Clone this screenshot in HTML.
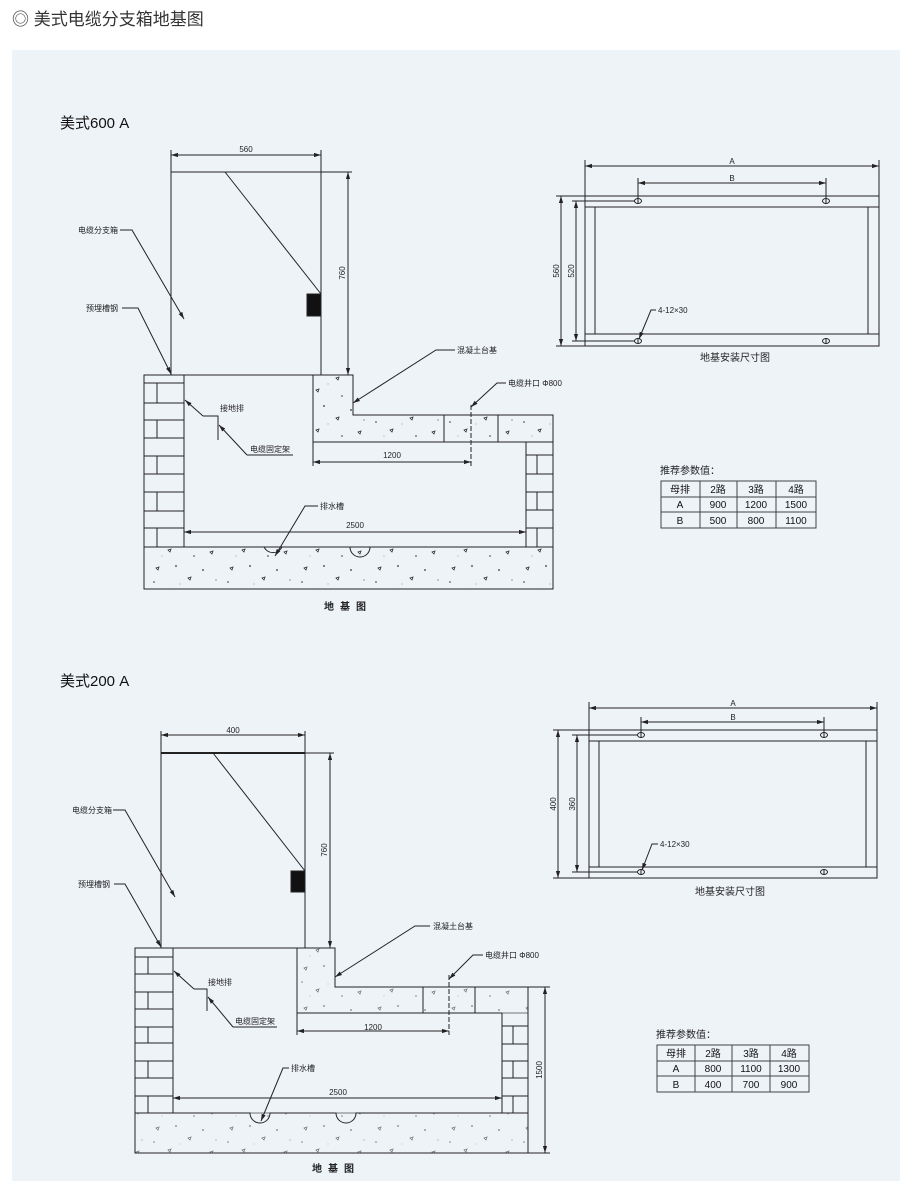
<!DOCTYPE html>
<html><head><meta charset="utf-8">
<style>
html,body{margin:0;padding:0;background:#fff;}
body{width:900px;height:1181px;overflow:hidden;}
svg{display:block;font-family:"Liberation Sans","Noto Sans CJK SC",sans-serif;}
</style></head><body>
<svg width="900" height="1181" viewBox="0 0 900 1181" xmlns="http://www.w3.org/2000/svg">
<defs>
<marker id="ar" viewBox="0 0 10 10" refX="10" refY="5" markerWidth="7" markerHeight="7" orient="auto-start-reverse"><path d="M0,2 L10,5 L0,8 z" fill="#222"/></marker>
<pattern id="spk" width="74" height="40" patternUnits="userSpaceOnUse">
<path d="M8,8 l3,-1 l-1,3z M40,18 l3,-1 l-1,3z M20,30 l3,-1 l-1,3z M62,32 l3,-1 l-1,3z" fill="none" stroke="#333" stroke-width="0.8"/>
<circle cx="28" cy="6" r="0.9" fill="#333"/><circle cx="55" cy="10" r="0.9" fill="#333"/><circle cx="6" cy="22" r="0.8" fill="#333"/><circle cx="46" cy="36" r="0.8" fill="#333"/><circle cx="68" cy="20" r="0.6" fill="#555"/><circle cx="32" cy="24" r="0.5" fill="#777"/><circle cx="14" cy="36" r="0.5" fill="#777"/>
</pattern>
</defs>
<rect width="900" height="1181" fill="#fff"/>
<text x="12" y="25" font-size="17" fill="#333">◎ 美式电缆分支箱地基图</text>
<rect x="12" y="50" width="888" height="1131" fill="#eef3f8"/>

<g stroke="#222" stroke-width="1" fill="none">
<text x="60" y="128" font-size="15" fill="#111" stroke="none">美式600 A</text>
<line x1="171" y1="150" x2="171" y2="172"/><line x1="321" y1="150" x2="321" y2="172"/>
<line x1="171" y1="155" x2="321" y2="155" marker-start="url(#ar)" marker-end="url(#ar)"/>
<text x="246" y="152" font-size="8" fill="#222" stroke="none" text-anchor="middle">560</text>
<rect x="171" y="172" width="150" height="203"/>
<line x1="225" y1="172" x2="321" y2="294"/>
<rect x="307" y="294" width="14" height="22" fill="#111"/>
<line x1="321" y1="172" x2="352" y2="172"/>
<line x1="348" y1="172" x2="348" y2="375" marker-start="url(#ar)" marker-end="url(#ar)"/>
<text transform="translate(345,273) rotate(-90)" font-size="8" fill="#222" stroke="none" text-anchor="middle">760</text>
<path d="M313,375 H353 V415 H553 V442 H313 Z" fill="url(#spk)"/>
<rect x="144" y="547" width="409" height="42" fill="url(#spk)"/>
<path d="M144,375 H353 V415 H553 V589 H144 Z"/>
<line x1="184" y1="375" x2="184" y2="547"/>
<line x1="313" y1="375" x2="313" y2="442"/>
<line x1="313" y1="442" x2="526" y2="442"/>
<line x1="444" y1="415" x2="444" y2="442"/><line x1="498" y1="415" x2="498" y2="442"/>
<line x1="526" y1="442" x2="526" y2="547"/>
<path d="M184,547 H264 A10,10 0 0 0 282,547 H350 A10,10 0 0 0 370,547 H526"/>
<line x1="144" y1="547" x2="184" y2="547"/><line x1="526" y1="547" x2="553" y2="547"/>
<path d="M144,383H184 M144,403H184 M144,420H184 M144,438H184 M144,456H184 M144,474H184 M144,492H184 M144,511H184 M144,528H184"/>
<path d="M157,383V403 M157,420V438 M157,456V474 M157,492V511 M157,528V547"/>
<path d="M526,455H553 M526,474H553 M526,492H553 M526,510H553 M526,528H553"/>
<path d="M537,455V474 M537,492V510 M537,528V547"/>
<line x1="184" y1="532" x2="526" y2="532" marker-start="url(#ar)" marker-end="url(#ar)"/>
<text x="355" y="528" font-size="8" fill="#222" stroke="none" text-anchor="middle">2500</text>
<line x1="313" y1="442" x2="313" y2="466"/>
<line x1="471" y1="405" x2="471" y2="466" stroke-dasharray="5,2"/>
<line x1="313" y1="462" x2="471" y2="462" marker-start="url(#ar)" marker-end="url(#ar)"/>
<text x="392" y="458" font-size="8" fill="#222" stroke="none" text-anchor="middle">1200</text>
<text x="78" y="233" font-size="8" fill="#222" stroke="none">电缆分支箱</text>
<path d="M120,230 H132 L184,319" marker-end="url(#ar)"/>
<text x="86" y="311" font-size="8" fill="#222" stroke="none">预埋槽钢</text>
<path d="M122,308 H138 L171,374" marker-end="url(#ar)"/>
<text x="220" y="411" font-size="8" fill="#222" stroke="none">接地排</text>
<path d="M203,416 L185,400" marker-end="url(#ar)"/><path d="M203,416 H218 V440"/>
<text x="250" y="452" font-size="8" fill="#222" stroke="none">电缆固定架</text>
<path d="M247,455 H293 M247,455 L219,425" marker-end="url(#ar)"/>
<text x="457" y="353" font-size="8" fill="#222" stroke="none">混凝土台基</text>
<path d="M455,350 H436 L353,403" marker-end="url(#ar)"/>
<text x="508" y="386" font-size="8" fill="#222" stroke="none">电缆井口 Φ800</text>
<path d="M506,383 H497 L471,407" marker-end="url(#ar)"/>
<text x="320" y="509" font-size="8" fill="#222" stroke="none">排水槽</text>
<path d="M318,506 H305 L275,556" marker-end="url(#ar)"/>
<text x="348" y="610" font-size="10" fill="#222" stroke="none" text-anchor="middle" letter-spacing="6" font-weight="bold">地基图</text>

<line x1="585" y1="160" x2="585" y2="196"/><line x1="879" y1="160" x2="879" y2="196"/>
<line x1="585" y1="166" x2="879" y2="166" marker-start="url(#ar)" marker-end="url(#ar)"/>
<text x="732" y="164" font-size="8" fill="#222" stroke="none" text-anchor="middle">A</text>
<line x1="638" y1="178" x2="638" y2="201"/><line x1="826" y1="178" x2="826" y2="201"/>
<line x1="638" y1="183" x2="826" y2="183" marker-start="url(#ar)" marker-end="url(#ar)"/>
<text x="732" y="181" font-size="8" fill="#222" stroke="none" text-anchor="middle">B</text>
<rect x="585" y="196" width="294" height="150"/>
<line x1="585" y1="207" x2="879" y2="207"/><line x1="585" y1="334" x2="879" y2="334"/>
<line x1="595" y1="207" x2="595" y2="334"/><line x1="868" y1="207" x2="868" y2="334"/>
<line x1="556" y1="196" x2="585" y2="196"/><line x1="556" y1="346" x2="585" y2="346"/>
<line x1="572" y1="201" x2="638" y2="201"/><line x1="572" y1="341" x2="638" y2="341"/>
<line x1="561" y1="196" x2="561" y2="346" marker-start="url(#ar)" marker-end="url(#ar)"/>
<line x1="576" y1="201" x2="576" y2="341" marker-start="url(#ar)" marker-end="url(#ar)"/>
<text transform="translate(559,271) rotate(-90)" font-size="8" fill="#222" stroke="none" text-anchor="middle">560</text>
<text transform="translate(574,271) rotate(-90)" font-size="8" fill="#222" stroke="none" text-anchor="middle">520</text>
<g fill="#eef3f8"><ellipse cx="638" cy="201" rx="3.5" ry="2.5"/><ellipse cx="826" cy="201" rx="3.5" ry="2.5"/><ellipse cx="638" cy="341" rx="3.5" ry="2.5"/><ellipse cx="826" cy="341" rx="3.5" ry="2.5"/></g>
<path d="M638,198V204 M826,198V204 M638,338V344 M826,338V344"/>
<text x="658" y="313" font-size="8" fill="#222" stroke="none">4-12×30</text>
<path d="M656,310 H651 L639,339" marker-end="url(#ar)"/>
<text x="735" y="361" font-size="10" fill="#222" stroke="none" text-anchor="middle">地基安装尺寸图</text>

<text x="660" y="474" font-size="10" fill="#222" stroke="none">推荐参数值：</text>
<rect x="661" y="481" width="155" height="47" stroke="#444"/>
<path d="M661,497H816 M661,512H816 M700,481V528 M737,481V528 M776,481V528" stroke="#444"/>
<g font-size="10" fill="#111" stroke="none" text-anchor="middle">
<text x="680" y="493">母排</text><text x="718" y="493">2路</text><text x="756" y="493">3路</text><text x="796" y="493">4路</text>
<text x="680" y="508">A</text><text x="718" y="508">900</text><text x="756" y="508">1200</text><text x="796" y="508">1500</text>
<text x="680" y="524">B</text><text x="718" y="524">500</text><text x="756" y="524">800</text><text x="796" y="524">1100</text>
</g>

<text x="60" y="686" font-size="15" fill="#111" stroke="none">美式200 A</text>
<line x1="161" y1="731" x2="161" y2="753"/><line x1="305" y1="731" x2="305" y2="753"/>
<line x1="161" y1="735" x2="305" y2="735" marker-start="url(#ar)" marker-end="url(#ar)"/>
<text x="233" y="733" font-size="8" fill="#222" stroke="none" text-anchor="middle">400</text>
<rect x="161" y="753" width="144" height="195"/>
<line x1="161" y1="753" x2="305" y2="753" stroke-width="2"/>
<line x1="213" y1="753" x2="305" y2="871"/>
<rect x="291" y="871" width="14" height="21" fill="#111"/>
<line x1="305" y1="753" x2="334" y2="753"/>
<line x1="330" y1="753" x2="330" y2="948" marker-start="url(#ar)" marker-end="url(#ar)"/>
<text transform="translate(327,850) rotate(-90)" font-size="8" fill="#222" stroke="none" text-anchor="middle">760</text>
<path d="M297,948 H335 V987 H528 V1013 H297 Z" fill="url(#spk)" opacity="0.6"/>
<rect x="135" y="1113" width="393" height="40" fill="url(#spk)" opacity="0.6"/>
<path d="M135,948 H335 V987 H528 V1153 H135 Z"/>
<line x1="173" y1="948" x2="173" y2="1113"/>
<line x1="297" y1="948" x2="297" y2="1013"/>
<line x1="297" y1="1013" x2="502" y2="1013"/>
<line x1="423" y1="987" x2="423" y2="1013"/><line x1="475" y1="987" x2="475" y2="1013"/>
<line x1="502" y1="1013" x2="502" y2="1113"/>
<path d="M173,1113 H250 A10,10 0 0 0 270,1113 H336 A10,10 0 0 0 356,1113 H502"/>
<line x1="135" y1="1113" x2="173" y2="1113"/><line x1="502" y1="1113" x2="528" y2="1113"/>
<path d="M135,957H173 M135,974H173 M135,992H173 M135,1009H173 M135,1027H173 M135,1043H173 M135,1061H173 M135,1078H173 M135,1096H173"/>
<path d="M148,957V974 M148,992V1009 M148,1027V1043 M148,1061V1078 M148,1096V1113"/>
<path d="M502,1026H528 M502,1044H528 M502,1061H528 M502,1078H528 M502,1096H528"/>
<path d="M513,1026V1044 M513,1061V1078 M513,1096V1113"/>
<line x1="173" y1="1098" x2="502" y2="1098" marker-start="url(#ar)" marker-end="url(#ar)"/>
<text x="338" y="1095" font-size="8" fill="#222" stroke="none" text-anchor="middle">2500</text>
<line x1="297" y1="1013" x2="297" y2="1035"/>
<line x1="449" y1="975" x2="449" y2="1035" stroke-dasharray="5,2"/>
<line x1="297" y1="1031" x2="449" y2="1031" marker-start="url(#ar)" marker-end="url(#ar)"/>
<text x="373" y="1030" font-size="8" fill="#222" stroke="none" text-anchor="middle">1200</text>
<line x1="528" y1="987" x2="550" y2="987"/><line x1="528" y1="1153" x2="550" y2="1153"/>
<line x1="545" y1="987" x2="545" y2="1153" marker-start="url(#ar)" marker-end="url(#ar)"/>
<text transform="translate(542,1070) rotate(-90)" font-size="8" fill="#222" stroke="none" text-anchor="middle">1500</text>
<text x="72" y="813" font-size="8" fill="#222" stroke="none">电缆分支箱</text>
<path d="M113,810 H125 L175,897" marker-end="url(#ar)"/>
<text x="78" y="887" font-size="8" fill="#222" stroke="none">预埋槽钢</text>
<path d="M114,884 H125 L161,947" marker-end="url(#ar)"/>
<text x="208" y="985" font-size="8" fill="#222" stroke="none">接地排</text>
<path d="M194,989 L174,971" marker-end="url(#ar)"/><path d="M194,989 H207 V1011"/>
<text x="235" y="1024" font-size="8" fill="#222" stroke="none">电缆固定架</text>
<path d="M233,1027 H277 M233,1027 L208,997" marker-end="url(#ar)"/>
<text x="433" y="929" font-size="8" fill="#222" stroke="none">混凝土台基</text>
<path d="M430,926 H415 L335,977" marker-end="url(#ar)"/>
<text x="485" y="958" font-size="8" fill="#222" stroke="none">电缆井口 Φ800</text>
<path d="M483,955 H473 L449,979" marker-end="url(#ar)"/>
<text x="291" y="1071" font-size="8" fill="#222" stroke="none">排水槽</text>
<path d="M289,1068 H283 L261,1121" marker-end="url(#ar)"/>
<text x="336" y="1172" font-size="10" fill="#222" stroke="none" text-anchor="middle" letter-spacing="6" font-weight="bold">地基图</text>

<line x1="589" y1="702" x2="589" y2="730"/><line x1="877" y1="702" x2="877" y2="730"/>
<line x1="589" y1="708" x2="877" y2="708" marker-start="url(#ar)" marker-end="url(#ar)"/>
<text x="733" y="706" font-size="8" fill="#222" stroke="none" text-anchor="middle">A</text>
<line x1="641" y1="717" x2="641" y2="735"/><line x1="824" y1="717" x2="824" y2="735"/>
<line x1="641" y1="722" x2="824" y2="722" marker-start="url(#ar)" marker-end="url(#ar)"/>
<text x="733" y="720" font-size="8" fill="#222" stroke="none" text-anchor="middle">B</text>
<rect x="589" y="730" width="288" height="148"/>
<line x1="589" y1="741" x2="877" y2="741"/><line x1="589" y1="867" x2="877" y2="867"/>
<line x1="599" y1="741" x2="599" y2="867"/><line x1="866" y1="741" x2="866" y2="867"/>
<line x1="553" y1="730" x2="589" y2="730"/><line x1="553" y1="878" x2="589" y2="878"/>
<line x1="572" y1="735" x2="641" y2="735"/><line x1="572" y1="872" x2="641" y2="872"/>
<line x1="558" y1="730" x2="558" y2="878" marker-start="url(#ar)" marker-end="url(#ar)"/>
<line x1="577" y1="735" x2="577" y2="872" marker-start="url(#ar)" marker-end="url(#ar)"/>
<text transform="translate(556,804) rotate(-90)" font-size="8" fill="#222" stroke="none" text-anchor="middle">400</text>
<text transform="translate(575,804) rotate(-90)" font-size="8" fill="#222" stroke="none" text-anchor="middle">360</text>
<g fill="#eef3f8"><ellipse cx="641" cy="735" rx="3.5" ry="2.5"/><ellipse cx="824" cy="735" rx="3.5" ry="2.5"/><ellipse cx="641" cy="872" rx="3.5" ry="2.5"/><ellipse cx="824" cy="872" rx="3.5" ry="2.5"/></g>
<path d="M641,732V738 M824,732V738 M641,869V875 M824,869V875"/>
<text x="660" y="847" font-size="8" fill="#222" stroke="none">4-12×30</text>
<path d="M658,844 H652 L642,870" marker-end="url(#ar)"/>
<text x="730" y="895" font-size="10" fill="#222" stroke="none" text-anchor="middle">地基安装尺寸图</text>

<text x="656" y="1038" font-size="10" fill="#222" stroke="none">推荐参数值：</text>
<rect x="657" y="1045" width="152" height="47" stroke="#444"/>
<path d="M657,1061H809 M657,1076H809 M695,1045V1092 M732,1045V1092 M770,1045V1092" stroke="#444"/>
<g font-size="10" fill="#111" stroke="none" text-anchor="middle">
<text x="676" y="1057">母排</text><text x="713" y="1057">2路</text><text x="751" y="1057">3路</text><text x="789" y="1057">4路</text>
<text x="676" y="1072">A</text><text x="713" y="1072">800</text><text x="751" y="1072">1100</text><text x="789" y="1072">1300</text>
<text x="676" y="1088">B</text><text x="713" y="1088">400</text><text x="751" y="1088">700</text><text x="789" y="1088">900</text>
</g>
</g>
</svg>
</body></html>
